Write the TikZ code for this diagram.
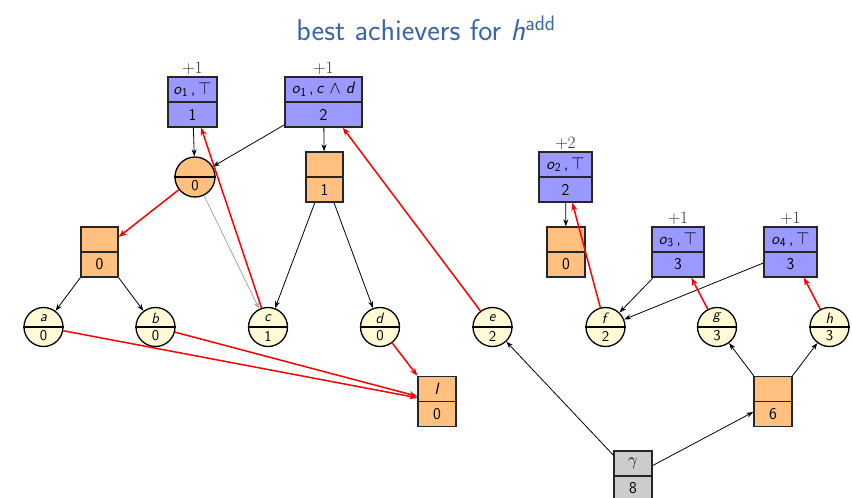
\documentclass[tikz,border=0pt]{standalone}
\usetikzlibrary{arrows.meta,calc}
\definecolor{bxblue}{RGB}{153,153,255}
\definecolor{bxorange}{RGB}{255,192,128}
\definecolor{bxyellow}{RGB}{255,250,214}
\definecolor{bxgray}{RGB}{204,204,204}
\definecolor{titleblue}{RGB}{58,100,168}
\tikzset{
  nf/.style={font=\fontsize{16.5}{19}\selectfont\sffamily, inner sep=0pt},
  cf/.style={font=\fontsize{15}{17}\selectfont\sffamily, inner sep=0pt},
  sbx/.style={draw=black!85, line width=1.4pt, minimum height=50pt, inner sep=0pt},
  fact/.style={draw=black, line width=1.3pt, circle, minimum size=39pt, inner sep=0pt, fill=bxyellow},
  blk/.style={-{Stealth[length=7pt,width=5pt]}, line width=0.8pt, black},
  redarr/.style={-{Stealth[length=8pt,width=6pt]}, line width=1.5pt, red},
  grayarr/.style={-{Stealth[length=7pt,width=5pt]}, line width=0.8pt, black!35},
  cost/.style={font=\fontsize{17.5}{20}\selectfont, text=black!80, inner sep=0pt}
}
\newcommand\splitrect[7]{%
  \node[sbx, fill=#5, minimum width=#4pt] (#1) at (#2,#3) {};
  \draw[line width=1.4pt, black!85] (#1.west) -- (#1.east);
  \node[nf] at ($(#1.center)+(0,-12.5)$) {#6};
  \node[nf] at ($(#1.center)+(0,12.5)$) {#7};
}
\newcommand\factnode[4]{%
  \node[fact] (#1) at (#2,327) {};
  \draw[line width=1.6pt] (#1.west) -- (#1.east);
  \node[cf] at ($(#1.center)+(0,-9)$) {\textit{#3}};
  \node[cf] at ($(#1.center)+(0,9)$) {#4};
}
\newcommand\osub[1]{\textit{o}$_{\mbox{\fontsize{12}{14}\selectfont\sffamily #1}}$\,,\,}
\newcommand\opl[1]{\osub{#1}$\top$}
\begin{document}
\begin{tikzpicture}[x=1pt,y=-1pt]
\useasboundingbox (0,0) rectangle (852,498);
\node[font=\fontsize{30}{36}\selectfont\sffamily, text=titleblue, anchor=base, inner sep=0pt] (title) at (426,40) {best achievers for \textit{h}$^{\mbox{\fontsize{21}{25}\selectfont\sffamily add}}$};

% operator boxes
\splitrect{o1T}{192.5}{102}{49}{bxblue}{\opl{1}}{1}
\splitrect{o1cd}{323.5}{102}{77}{bxblue}{\osub{1}\textit{c} $\wedge$ \textit{d}}{2}
\splitrect{o2T}{565.5}{177}{53}{bxblue}{\opl{2}}{2}
\splitrect{o3T}{678}{252}{52}{bxblue}{\opl{3}}{3}
\splitrect{o4T}{790.5}{252}{53}{bxblue}{\opl{4}}{3}

\node[cost, anchor=base] (p1) at (192.5,73) {$+1$};
\node[cost, anchor=base] (p2) at (323.5,73) {$+1$};
\node[cost, anchor=base] (p3) at (565.5,148) {$+2$};
\node[cost, anchor=base] (p4) at (678,223) {$+1$};
\node[cost, anchor=base] (p5) at (790.5,223) {$+1$};

% orange boxes
\splitrect{ob1}{324.5}{177}{37}{bxorange}{}{1}
\splitrect{ob0}{99.5}{252}{37}{bxorange}{}{0}
\splitrect{ob2}{566}{252}{38}{bxorange}{}{0}
\splitrect{I}{437}{401.5}{38}{bxorange}{\textit{I}}{0}
\splitrect{ob6}{773}{401.5}{38}{bxorange}{}{6}
\splitrect{gam}{633}{476}{38}{bxgray}{$\gamma$}{8}

% orange circle
\node[fact, fill=bxorange, minimum size=40pt] (oc) at (195,177) {};
\draw[line width=1.6pt] (oc.west) -- (oc.east);
\node[cf] at ($(oc.center)+(0,9)$) {0};

% facts
\factnode{a}{43.5}{a}{0}
\factnode{b}{155.5}{b}{0}
\factnode{c}{268}{c}{1}
\factnode{d}{380}{d}{0}
\factnode{e}{492.5}{e}{2}
\factnode{f}{605.5}{f}{2}
\factnode{g}{717}{g}{3}
\factnode{h}{829.5}{h}{3}

% black edges
\draw[blk] (o1T) -- (oc);
\draw[blk] (o1cd) -- (oc);
\draw[blk] (o1cd) -- (ob1);
\draw[blk] (ob1) -- (c);
\draw[blk] (ob1) -- (d);
\draw[blk] (ob0) -- (a);
\draw[blk] (ob0) -- (b);
\draw[blk] (o2T) -- (ob2);
\draw[blk] (o3T) -- (f);
\draw[blk] (o4T) -- (f);
\draw[blk] (gam) -- (e);
\draw[blk] (gam) -- (ob6);
\draw[blk] (ob6) -- (g);
\draw[blk] (ob6) -- (h);
\draw[grayarr] (oc) -- (c);

% red edges
\draw[redarr] (oc) -- (ob0);
\draw[redarr] (c) -- (o1T);
\draw[redarr] (e) -- (o1cd);
\draw[redarr] (a) -- (I);
\draw[redarr] (b) -- (I);
\draw[redarr] (d) -- (I);
\draw[redarr] (f) -- (o2T);
\draw[redarr] (g) -- (o3T);
\draw[redarr] (h) -- (o4T);
\end{tikzpicture}
\end{document}
